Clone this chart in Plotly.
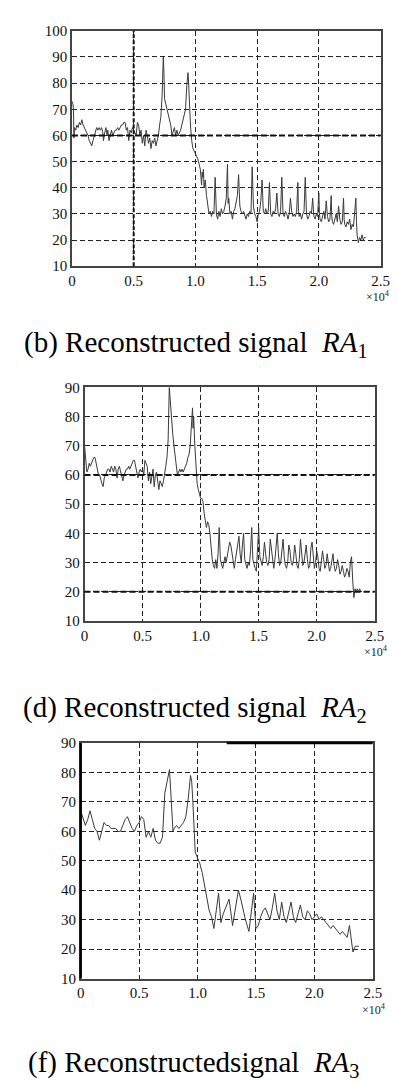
import plotly.graph_objects as go

# ---------------- data (x in units of 1e4) ----------------
x_orig = [0.000, 0.008, 0.012, 0.016, 0.020, 0.030, 0.040, 0.050, 0.060, 0.070, 0.080, 0.090,
          0.100, 0.110, 0.120, 0.130, 0.140, 0.150, 0.160, 0.170, 0.180, 0.190, 0.200, 0.210,
          0.220, 0.230, 0.240, 0.250, 0.255, 0.265, 0.275, 0.285, 0.290, 0.300, 0.310, 0.320,
          0.330, 0.340, 0.350, 0.360, 0.370, 0.380, 0.390, 0.400, 0.410, 0.420, 0.430, 0.440,
          0.450, 0.460, 0.470, 0.480, 0.490, 0.500, 0.510, 0.520, 0.530, 0.540, 0.550, 0.560,
          0.570, 0.580, 0.590, 0.600, 0.610, 0.620, 0.630, 0.640, 0.650, 0.660, 0.670, 0.680,
          0.690, 0.700, 0.710, 0.720, 0.730, 0.740, 0.745, 0.750, 0.760, 0.770, 0.780, 0.790,
          0.800, 0.810, 0.820, 0.830, 0.840, 0.850, 0.860, 0.870, 0.880, 0.890, 0.900, 0.910,
          0.920, 0.930, 0.940, 0.945, 0.950, 0.960, 0.970, 0.980, 0.990, 1.000, 1.010, 1.020,
          1.030, 1.040, 1.050, 1.055, 1.060, 1.065, 1.070, 1.080, 1.090, 1.100, 1.110, 1.120,
          1.130, 1.140, 1.150, 1.160, 1.165, 1.170, 1.180, 1.190, 1.200, 1.210, 1.220, 1.230,
          1.240, 1.250, 1.260, 1.265, 1.270, 1.280, 1.290, 1.300, 1.310, 1.320, 1.330, 1.340,
          1.350, 1.355, 1.360, 1.370, 1.380, 1.390, 1.400, 1.410, 1.420, 1.430, 1.440, 1.450,
          1.460, 1.465, 1.470, 1.480, 1.490, 1.500, 1.510, 1.520, 1.530, 1.540, 1.545, 1.550,
          1.560, 1.570, 1.580, 1.590, 1.600, 1.605, 1.610, 1.620, 1.630, 1.640, 1.650, 1.660,
          1.670, 1.680, 1.690, 1.700, 1.705, 1.710, 1.720, 1.730, 1.740, 1.750, 1.760, 1.770,
          1.780, 1.790, 1.800, 1.810, 1.820, 1.830, 1.835, 1.840, 1.850, 1.860, 1.870, 1.880,
          1.890, 1.895, 1.900, 1.910, 1.920, 1.930, 1.940, 1.950, 1.960, 1.970, 1.980, 1.990,
          2.000, 2.005, 2.010, 2.020, 2.030, 2.040, 2.050, 2.060, 2.070, 2.080, 2.090, 2.100,
          2.105, 2.110, 2.120, 2.130, 2.140, 2.150, 2.160, 2.170, 2.180, 2.190, 2.200, 2.205,
          2.210, 2.220, 2.230, 2.240, 2.250, 2.260, 2.270, 2.280, 2.290, 2.300, 2.305, 2.310,
          2.320, 2.330, 2.340, 2.350, 2.360, 2.370, 2.380]
y_orig = [73, 72, 70, 59, 63, 62, 64, 63, 65, 64, 66, 64,
          63, 62, 61, 60, 58, 57, 56, 58, 60, 62, 63, 62,
          63, 62, 63, 61, 58, 61, 63, 60, 62, 58, 60, 62,
          60, 61, 62, 62, 63, 62, 63, 64, 64, 65, 65, 62,
          63, 58, 62, 61, 63, 62, 61, 60, 65, 64, 60, 62,
          57, 60, 56, 62, 60, 57, 59, 55, 58, 57, 59, 56,
          58, 60, 64, 67, 75, 90, 84, 74, 72, 70, 68, 65,
          64, 60, 62, 63, 60, 62, 60, 61, 62, 64, 66, 67,
          70, 79, 84, 80, 72, 64, 58, 55, 54, 53, 52, 51,
          49, 47, 41, 46, 44, 47, 40, 43, 37, 34, 30, 31,
          29, 31, 30, 44, 31, 30, 28, 31, 29, 32, 30, 31,
          33, 36, 49, 34, 36, 30, 31, 28, 31, 32, 35, 37,
          45, 36, 33, 31, 30, 31, 29, 28, 30, 29, 31, 30,
          48, 36, 33, 30, 29, 27, 30, 31, 35, 43, 33, 31,
          30, 32, 30, 31, 42, 32, 30, 29, 31, 30, 32, 38,
          30, 29, 31, 44, 32, 30, 29, 31, 30, 28, 30, 36,
          31, 29, 30, 29, 31, 42, 31, 29, 30, 28, 30, 31,
          44, 32, 30, 28, 29, 31, 30, 36, 29, 28, 30, 29,
          38, 30, 28, 27, 29, 31, 28, 35, 29, 27, 28, 37,
          29, 27, 26, 28, 30, 27, 33, 28, 26, 27, 36, 28,
          26, 25, 27, 26, 28, 24, 26, 25, 30, 36, 27, 22,
          19, 21, 20, 22, 20, 21, 21]

x_ra1 = [0.000, 0.010, 0.020, 0.030, 0.040, 0.050, 0.060, 0.070, 0.080, 0.090, 0.100, 0.110,
         0.120, 0.130, 0.140, 0.150, 0.160, 0.170, 0.180, 0.190, 0.200, 0.210, 0.220, 0.230,
         0.240, 0.250, 0.260, 0.270, 0.280, 0.290, 0.300, 0.310, 0.320, 0.330, 0.340, 0.350,
         0.360, 0.370, 0.380, 0.390, 0.400, 0.410, 0.420, 0.430, 0.440, 0.450, 0.460, 0.470,
         0.480, 0.490, 0.500, 0.510, 0.520, 0.530, 0.540, 0.550, 0.560, 0.570, 0.580, 0.590,
         0.600, 0.610, 0.620, 0.630, 0.640, 0.650, 0.660, 0.670, 0.680, 0.690, 0.700, 0.710,
         0.720, 0.730, 0.740, 0.750, 0.760, 0.770, 0.780, 0.790, 0.800, 0.810, 0.820, 0.830,
         0.840, 0.850, 0.860, 0.870, 0.880, 0.890, 0.900, 0.910, 0.920, 0.930, 0.935, 0.940,
         0.950, 0.960, 0.970, 0.980, 0.990, 1.000, 1.010, 1.020, 1.030, 1.040, 1.050, 1.060,
         1.070, 1.080, 1.090, 1.100, 1.110, 1.120, 1.130, 1.140, 1.150, 1.160, 1.170, 1.180,
         1.190, 1.200, 1.210, 1.220, 1.230, 1.240, 1.250, 1.260, 1.270, 1.280, 1.290, 1.300,
         1.310, 1.320, 1.330, 1.340, 1.350, 1.360, 1.370, 1.380, 1.390, 1.400, 1.410, 1.420,
         1.430, 1.440, 1.450, 1.460, 1.470, 1.480, 1.490, 1.500, 1.510, 1.520, 1.530, 1.540,
         1.550, 1.560, 1.570, 1.580, 1.590, 1.600, 1.610, 1.620, 1.630, 1.640, 1.650, 1.660,
         1.670, 1.680, 1.690, 1.700, 1.710, 1.720, 1.730, 1.740, 1.750, 1.760, 1.770, 1.780,
         1.790, 1.800, 1.810, 1.820, 1.830, 1.840, 1.850, 1.860, 1.870, 1.880, 1.890, 1.900,
         1.910, 1.920, 1.930, 1.940, 1.950, 1.960, 1.970, 1.980, 1.990, 2.000, 2.010, 2.020,
         2.030, 2.040, 2.050, 2.060, 2.070, 2.080, 2.090, 2.100, 2.110, 2.120, 2.130, 2.140,
         2.150, 2.160, 2.170, 2.180, 2.190, 2.200, 2.210, 2.220, 2.230, 2.240, 2.250, 2.260,
         2.270, 2.280, 2.290, 2.300, 2.310, 2.320, 2.330, 2.340, 2.350, 2.360, 2.370, 2.380]
y_ra1 = [70, 66, 61, 62, 64, 63, 64, 65, 66, 66, 64, 62,
         60, 60, 58, 57, 56, 59, 60, 61, 62, 62, 61, 63,
         62, 61, 63, 62, 59, 62, 63, 61, 60, 58, 60, 61,
         62, 62, 63, 62, 63, 64, 65, 65, 63, 61, 59, 61,
         62, 61, 62, 60, 65, 64, 63, 58, 61, 57, 60, 62,
         56, 60, 61, 57, 55, 58, 57, 56, 58, 60, 63, 66,
         72, 90, 84, 78, 74, 70, 66, 62, 60, 61, 62, 61,
         62, 61, 62, 63, 64, 66, 67, 70, 75, 83, 76, 80,
         70, 62, 57, 55, 53, 52, 52, 51, 47, 45, 42, 44,
         43, 40, 35, 31, 29, 28, 31, 28, 33, 42, 31, 29,
         28, 30, 32, 30, 32, 35, 37, 36, 33, 30, 28, 31,
         34, 37, 39, 33, 30, 36, 40, 31, 29, 28, 30, 29,
         34, 42, 31, 29, 28, 27, 33, 42, 32, 30, 29, 32,
         37, 33, 30, 29, 31, 38, 34, 30, 28, 31, 37, 40,
         33, 29, 30, 35, 38, 32, 29, 28, 30, 36, 34, 30,
         29, 31, 36, 33, 29, 28, 31, 38, 32, 29, 30, 34,
         36, 31, 28, 29, 35, 37, 31, 28, 30, 34, 32, 28,
         27, 30, 34, 31, 28, 29, 33, 30, 27, 28, 31, 33,
         29, 27, 28, 31, 29, 26, 27, 29, 27, 25, 26, 28,
         27, 25, 30, 32, 24, 18, 21, 20, 21, 20, 21, 20]

x_ra2 = [0.000, 0.020, 0.040, 0.060, 0.080, 0.100, 0.120, 0.140, 0.160, 0.180, 0.200, 0.220,
         0.240, 0.260, 0.280, 0.300, 0.320, 0.340, 0.360, 0.380, 0.400, 0.420, 0.440, 0.460,
         0.480, 0.500, 0.520, 0.540, 0.560, 0.580, 0.600, 0.620, 0.640, 0.660, 0.680, 0.700,
         0.710, 0.720, 0.740, 0.760, 0.770, 0.780, 0.790, 0.800, 0.820, 0.840, 0.860, 0.880,
         0.900, 0.920, 0.940, 0.950, 0.960, 0.970, 0.980, 1.000, 1.020, 1.040, 1.060, 1.080,
         1.100, 1.120, 1.140, 1.160, 1.180, 1.200, 1.220, 1.240, 1.270, 1.300, 1.320, 1.350,
         1.370, 1.390, 1.410, 1.440, 1.460, 1.480, 1.500, 1.520, 1.540, 1.560, 1.580, 1.600,
         1.620, 1.640, 1.660, 1.680, 1.700, 1.720, 1.740, 1.760, 1.780, 1.800, 1.820, 1.840,
         1.860, 1.880, 1.900, 1.920, 1.940, 1.960, 1.980, 2.000, 2.020, 2.040, 2.060, 2.080,
         2.100, 2.120, 2.140, 2.160, 2.180, 2.200, 2.220, 2.240, 2.260, 2.280, 2.300, 2.320,
         2.330, 2.350, 2.380]
y_ra2 = [67, 64, 62, 64, 67, 64, 61, 60, 57, 60, 63, 62,
         62, 61, 61, 61, 60, 60, 62, 64, 65, 63, 61, 60,
         62, 63, 65, 64, 58, 60, 58, 61, 57, 56, 56, 58,
         64, 73, 77, 81, 74, 65, 60, 61, 62, 61, 62, 63,
         65, 71, 79, 77, 70, 62, 53, 51, 49, 46, 42, 37,
         33, 31, 27, 33, 39, 29, 32, 34, 37, 28, 33, 40,
         37, 33, 30, 26, 32, 39, 27, 28, 31, 33, 34, 32,
         30, 34, 39, 33, 30, 36, 31, 29, 33, 36, 31, 29,
         32, 35, 31, 30, 33, 32, 30, 31, 32, 30, 31, 30,
         29, 28, 27, 28, 27, 26, 25, 26, 25, 24, 28, 21,
         19, 21, 21]

x_ticks = [0, 0.5, 1.0, 1.5, 2.0, 2.5]
x_tick_labels = ["0", "0.5", "1.0", "1.5", "2.0", "2.5"]
y_ticks_top = [10, 20, 30, 40, 50, 60, 70, 80, 90, 100]
y_ticks_low = [10, 20, 30, 40, 50, 60, 70, 80, 90]
captions = ["(b) Reconstructed signal  <i>RA</i><sub>1</sub>",
            "(d) Reconstructed signal  <i>RA</i><sub>2</sub>",
            "(f) Reconstructedsignal  <i>RA</i><sub>3</sub>"]

# ---------------- layout ----------------
W, H = 398, 1081
SERIF = "Liberation Serif, Times New Roman, serif"

def px(v):
    return v / W

def py(v):
    return 1 - v / H

# panel boxes in pixels: (left, right, top, bottom)
boxes = [(62, 381, 15, 254), (75, 375, 377, 614), (71, 373, 738, 977)]
series = [(x_orig, y_orig, [10, 100], y_ticks_top),
          (x_ra1, y_ra1, [10, 90], y_ticks_low),
          (x_ra2, y_ra2, [10, 90], y_ticks_low)]
exp_right = [393, 391, 389]

fig = go.Figure()
layout_axes = {}
annotations = []
for i, ((l, r, t, b), (xs, ys, yr, yt)) in enumerate(zip(boxes, series)):
    n = "" if i == 0 else str(i + 1)
    fig.add_trace(go.Scatter(x=xs, y=ys, mode="lines",
                             line=dict(color="#3a3a3a", width=1),
                             xaxis="x" + n, yaxis="y" + n, showlegend=False,
                             hoverinfo="skip"))
    common = dict(showgrid=True, gridcolor="#222", griddash="5px,3px", gridwidth=1,
                  showline=True, linecolor="#444", linewidth=1.5, mirror=True,
                  zeroline=False, ticks="", tickfont=dict(family=SERIF, size=15, color="#111"))
    layout_axes["xaxis" + n] = dict(domain=[px(l), px(r)], range=[0, 2.5],
                                    tickvals=x_ticks, ticktext=x_tick_labels,
                                    anchor="y" + n, **common)
    layout_axes["yaxis" + n] = dict(domain=[py(b), py(t)], range=yr, tickvals=yt,
                                    anchor="x" + n, **common)
    annotations.append(dict(text="×10<sup>4</sup>", xref="paper", yref="paper",
                            x=px(exp_right[i]), y=py(b + 31), xanchor="right", yanchor="middle",
                            showarrow=False, font=dict(family=SERIF, size=12, color="#222")))

# emphasised (heavier) grid lines seen in the scanned figure
shapes = [
    dict(type="line", xref="x domain", yref="y", x0=0, x1=1, y0=60, y1=60,
         line=dict(color="#111", width=2, dash="6px,3px")),
    dict(type="line", xref="x", yref="y domain", x0=0.5, x1=0.5, y0=0, y1=1,
         line=dict(color="#111", width=2, dash="4px,2px")),
    dict(type="line", xref="x2 domain", yref="y2", x0=0, x1=1, y0=60, y1=60,
         line=dict(color="#111", width=2, dash="6px,3px")),
    dict(type="line", xref="x2 domain", yref="y2", x0=0, x1=1, y0=20, y1=20,
         line=dict(color="#111", width=2, dash="6px,3px")),
    dict(type="line", xref="x3", yref="y3 domain", x0=1.25, x1=2.5, y0=1, y1=1,
         line=dict(color="#000", width=2.5)),
    dict(type="line", xref="x3 domain", yref="y3 domain", x0=0, x1=0, y0=0, y1=1,
         line=dict(color="#000", width=2.5)),
]

cap_pos = [(10, 333), (9, 703), (14, 1064)]
for (cx, cy), txt in zip(cap_pos, captions):
    annotations.append(dict(text=txt, xref="paper", yref="paper", x=px(cx), y=py(cy),
                            xanchor="left", yanchor="middle", showarrow=False,
                            font=dict(family=SERIF, size=29, color="#000")))

fig.update_layout(width=W, height=H, margin=dict(l=0, r=0, t=0, b=0),
                  paper_bgcolor="white", plot_bgcolor="white",
                  annotations=annotations, shapes=shapes, **layout_axes)

fig.write_html("out.html")
